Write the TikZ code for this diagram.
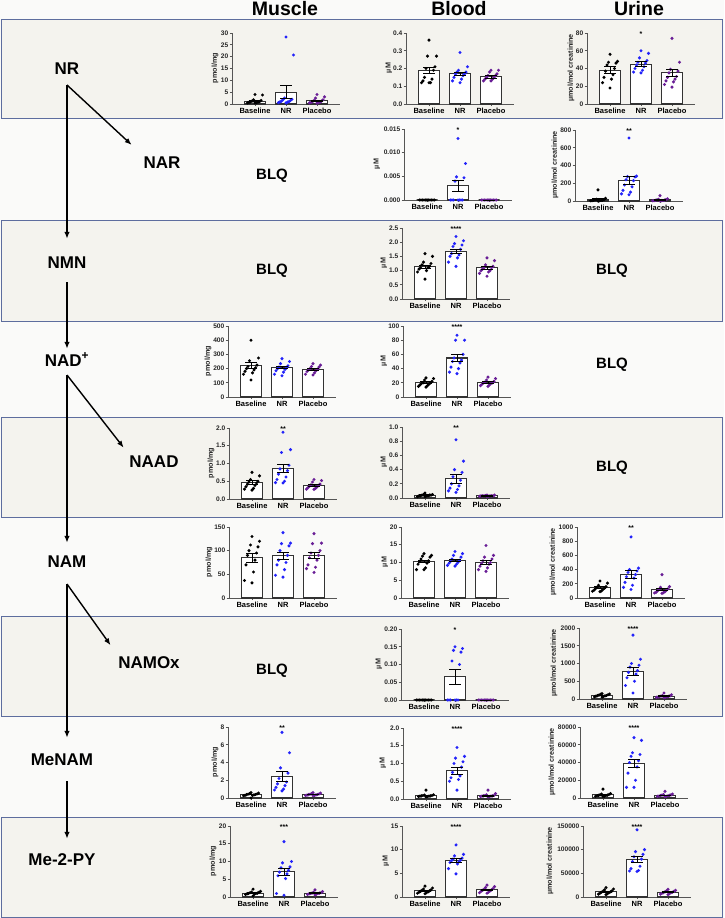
\documentclass[tikz,border=0pt]{standalone}
\usepackage{fontspec}
\setmainfont{Liberation Sans}
\usetikzlibrary{arrows.meta}

\definecolor{boxfill}{RGB}{244,243,238}
\definecolor{pagefill}{RGB}{250,250,249}
\definecolor{boxedge}{RGB}{93,109,158}
\definecolor{nrblue}{RGB}{35,35,250}
\definecolor{pbpurple}{RGB}{105,30,150}
\definecolor{axisgray}{RGB}{85,85,85}

\tikzset{
  rowbox/.style={draw=boxedge, fill=boxfill, line width=1pt},
  pathlbl/.style={font=\fontsize{17}{17}\selectfont\bfseries, text height=12pt, text depth=0pt, inner sep=0pt},
  headlbl/.style={font=\fontsize{19.5}{20}\selectfont\bfseries, text height=14pt, text depth=0pt, inner sep=0pt},
  blqlbl/.style={font=\fontsize{15}{15}\selectfont\bfseries, inner sep=0pt},
  ticklbl/.style={font=\fontsize{6.6}{7}\selectfont\bfseries, inner sep=0.5pt, text=black!85},
  ytitle/.style={font=\fontsize{7.2}{8}\selectfont\bfseries, inner sep=0pt, text=black!85},
  xlbl/.style={font=\fontsize{7.5}{8}\selectfont\bfseries, inner sep=0pt},
  starlbl/.style={font=\fontsize{7}{7}\selectfont\bfseries, inner sep=0pt},
  axisline/.style={draw=axisgray, line width=0.9pt},
  barline/.style={draw=black!80, line width=1.1pt, fill=white},
  errline/.style={draw=black, line width=0.8pt},
  flow/.style={-{Latex[length=7pt,width=5.5pt]}, line width=1.4pt, shorten >=14pt},
}

% axes of one small chart: #1 top value, #2 ticks value/label, #3 y title, #4 title offset
\newcommand{\chartaxes}[4]{%
  \def\ymx{#1}%
  \draw[axisline] (0,-71) -- (0,0) -- (108,0);
  \foreach \v/\t in {#2}{%
    \pgfmathsetmacro{\yy}{-71*(\v/\ymx)}
    \draw[axisline] (-2.5,\yy) -- (0,\yy);
    \node[ticklbl, anchor=east] at (-3,\yy) {\t};
  }
  \foreach \c/\g in {23/Baseline,54/NR,85/Placebo}{%
    \draw[axisline] (\c,0) -- (\c,2);
    \node[xlbl, anchor=north] at (\c,4) {\g};
  }
  \node[ytitle, rotate=90] at (#4,-36) {#3};
}

% one group: #1 x centre, #2 mean, #3 sem, #4 colour, #5 points
\newcommand{\chartgroup}[5]{%
  \pgfmathsetmacro{\hb}{-71*(#2/\ymx)}
  \pgfmathsetmacro{\hi}{-71*((#2+#3)/\ymx)}
  \pgfmathsetmacro{\lo}{-71*((#2-#3)/\ymx)}
  \draw[barline] (#1-10.5,0) rectangle (#1+10.5,\hb);
  \foreach \p [count=\i] in {#5}{%
    \pgfmathsetmacro{\dx}{(mod(\i*5,11)-5)*1.5}
    \pgfmathsetmacro{\py}{-71*(\p/\ymx)}
    \fill[#4] ({#1+\dx},\py) circle (1.7pt);
  }
  \draw[errline] (#1,\lo) -- (#1,\hi) (#1-6,\lo) -- (#1+6,\lo) (#1-6,\hi) -- (#1+6,\hi);
}

\newcommand{\chartstars}[1]{\node[starlbl] at (54,-70) {#1};}

\begin{document}
\begin{tikzpicture}[x=1pt,y=-1pt]

  \useasboundingbox (0,0) rectangle (724,918);
  \fill[pagefill] (0,0) rectangle (724,918);

  % shaded rows
  \foreach \top/\bot in {19/118,220/321,417/517,616/716,817/917}
    \draw[rowbox] (1.5,\top) rectangle (722.5,\bot);

  % column heads
  \begin{scope}[every node/.style={headlbl}]
    \node (muscle) at (285,9) {Muscle};
    \node (blood)  at (459,9) {Blood};
    \node (urine)  at (639,9) {Urine};
  \end{scope}

  % pathway
  \begin{scope}[every node/.style={pathlbl}]
    \node (nr)    at (67,68)   {NR};
    \node (nar)   at (162,162) {NAR};
    \node (nmn)   at (67,262)  {NMN};
    \node (nad)   at (67,360)  {NAD\textsuperscript{+}};
    \node (naad)  at (154,461) {NAAD};
    \node (nam)   at (67,561)  {NAM};
    \node (namox) at (149,662) {NAMOx};
    \node (menam) at (62,759)  {MeNAM};
    \node (mepy)  at (62,859)  {Me-2-PY};
  \end{scope}

  \coordinate (nrfork)    at (67,85);
  \coordinate (nmnfork)   at (67,282);
  \coordinate (nadfork)   at (67,375);
  \coordinate (namfork)   at (67,584);
  \coordinate (menamfork) at (67,781);

  \draw[flow, shorten >=17pt] (nrfork) -- (nrfork |- nmn.north);
  \draw[flow, shorten >=16pt] (nrfork) -- (nar.north west);
  \draw[flow, shorten >=5pt]  (nmnfork) -- (nmnfork |- nad.north);
  \draw[flow, shorten >=12pt] (nadfork) -- (nadfork |- nam.north);
  \draw[flow, shorten >=9pt]  (nadfork) -- (naad.north west);
  \draw[flow, shorten >=15pt] (namfork) -- (namfork |- menam.north);
  \draw[flow, shorten >=13pt] (namfork) -- (namox.north west);
  \draw[flow, shorten >=14pt] (menamfork) -- (menamfork |- mepy.north);

  % below limit of quantification
  \begin{scope}[every node/.style={blqlbl}]
    \node (blqnarm)  at (272,176) {BLQ};
    \node (blqnmnm)  at (272,271) {BLQ};
    \node (blqnmnu)  at (612,271) {BLQ};
    \node (blqnadu)  at (612,365) {BLQ};
    \node (blqnaadu) at (612,468) {BLQ};
    \node (blqnamoxm) at (272,671) {BLQ};
  \end{scope}

  % NR
  \begin{scope}[shift={(232,104)}]
    \chartaxes{30}{0/0,5/5,10/10,15/15,20/20,25/25,30/30}{pmol/mg}{-17}
    \chartgroup{23}{1.2}{0.3}{black}{4.0,3.8,1.8,1.5,1.2,1.0,0.9,0.8,0.7,0.6,0.5,0.5}
    \chartgroup{54}{5.0}{2.7}{nrblue}{28.3,20.7,2.5,2,1.8,1.5,1.2,1.0,0.9,0.8,0.6,0.5}
    \chartgroup{85}{1.3}{0.35}{pbpurple}{4.0,3.0,2.5,1.8,1.5,1.2,1.0,0.8,0.7,0.6,0.5,0.4}
  \end{scope}
  \begin{scope}[shift={(406,104)}]
    \chartaxes{0.4}{0/0.0,0.1/0.1,0.2/0.2,0.3/0.3,0.4/0.4}{µM}{-17}
    \chartgroup{23}{0.19}{0.018}{black}{0.36,0.27,0.27,0.21,0.20,0.19,0.15,0.14,0.13,0.12,0.12,0.12}
    \chartgroup{54}{0.17}{0.01}{nrblue}{0.29,0.21,0.19,0.18,0.18,0.17,0.17,0.16,0.15,0.14,0.13,0.12}
    \chartgroup{85}{0.155}{0.008}{pbpurple}{0.19,0.19,0.18,0.17,0.16,0.16,0.15,0.15,0.14,0.14,0.13,0.13}
  \end{scope}
  \begin{scope}[shift={(587,104)}]
    \chartaxes{80}{0/0,20/20,40/40,60/60,80/80}{µmol/mol creatinine}{-16}
    \chartgroup{23}{38}{4}{black}{56,48,47,46,44,40,37,33,30,28,24,18}
    \chartgroup{54}{45}{2.5}{nrblue}{60,57,52,49,47,46,44,42,40,38,36,35}
    \chartgroup{85}{35}{4}{pbpurple}{74,47,39,37,35,31,30,28,26,25,22,19}
    \chartstars{*}
  \end{scope}

  % NAR
  \begin{scope}[shift={(404,200)}]
    \chartaxes{0.015}{0/0.000,0.005/0.005,0.010/0.010,0.015/0.015}{µM}{-27}
    \chartgroup{23}{0}{0}{black}{0,0,0,0,0,0,0,0,0,0,0,0}
    \chartgroup{54}{0.003}{0.0012}{nrblue}{0.013,0.0077,0.0049,0.0047,0.004,0,0,0,0,0,0,0}
    \chartgroup{85}{0}{0}{pbpurple}{0,0,0,0,0,0,0,0,0,0,0,0}
    \chartstars{*}
  \end{scope}
  \begin{scope}[shift={(575,201)}]
    \chartaxes{800}{0/0,200/200,400/400,600/600,800/800}{µmol/mol creatinine}{-20}
    \chartgroup{23}{15}{10}{black}{125,30,20,15,12,10,8,6,5,4,3,2}
    \chartgroup{54}{230}{45}{nrblue}{710,280,275,270,240,230,180,160,120,100,80,70}
    \chartgroup{85}{12}{5}{pbpurple}{60,25,20,15,12,10,8,6,5,4,3,2}
    \chartstars{**}
  \end{scope}

  % NMN
  \begin{scope}[shift={(402,299)}]
    \chartaxes{2.5}{0/0.0,0.5/0.5,1.0/1.0,1.5/1.5,2.0/2.0,2.5/2.5}{µM}{-18}
    \chartgroup{23}{1.13}{0.07}{black}{1.6,1.5,1.3,1.25,1.2,1.15,1.1,1.1,1.05,1.0,0.95,0.7}
    \chartgroup{54}{1.67}{0.08}{nrblue}{2.2,2.05,1.95,1.9,1.85,1.75,1.6,1.55,1.5,1.45,1.3,1.15}
    \chartgroup{85}{1.1}{0.05}{pbpurple}{1.45,1.35,1.2,1.15,1.1,1.1,1.05,1.0,1.0,0.95,0.9,0.8}
    \chartstars{****}
  \end{scope}

  % NAD+
  \begin{scope}[shift={(228,397)}]
    \chartaxes{500}{0/0,100/100,200/200,300/300,400/400,500/500}{pmol/mg}{-20}
    \chartgroup{23}{220}{22}{black}{400,275,255,225,215,205,200,190,180,170,160,120}
    \chartgroup{54}{208}{10}{nrblue}{270,250,235,220,210,205,200,195,185,175,160,150}
    \chartgroup{85}{195}{8}{pbpurple}{235,225,215,210,200,195,190,185,180,170,160,155}
  \end{scope}
  \begin{scope}[shift={(403,397)}]
    \chartaxes{100}{0/0,20/20,40/40,60/60,80/80,100/100}{µM}{-19}
    \chartgroup{23}{20}{1.5}{black}{27,26,24,22,20,20,19,18,17,16,15,14}
    \chartgroup{54}{55}{5}{nrblue}{87,80,80,60,55,52,50,48,42,40,35,33}
    \chartgroup{85}{21}{1.2}{pbpurple}{28,26,24,22,21,20,20,19,18,17,16,15}
    \chartstars{****}
  \end{scope}

  % NAAD
  \begin{scope}[shift={(229,499)}]
    \chartaxes{2.0}{0/0.0,0.5/0.5,1.0/1.0,1.5/1.5,2.0/2.0}{pmol/mg}{-18}
    \chartgroup{23}{0.47}{0.05}{black}{0.75,0.65,0.55,0.5,0.48,0.45,0.42,0.38,0.35,0.3,0.28,0.25}
    \chartgroup{54}{0.86}{0.12}{nrblue}{1.88,1.39,1.31,0.95,0.85,0.8,0.7,0.62,0.55,0.5,0.46,0.45}
    \chartgroup{85}{0.38}{0.03}{pbpurple}{0.55,0.52,0.48,0.42,0.4,0.38,0.36,0.34,0.32,0.3,0.28,0.27}
    \chartstars{**}
  \end{scope}
  \begin{scope}[shift={(402,498)}]
    \chartaxes{1.0}{0/0.0,0.2/0.2,0.4/0.4,0.6/0.6,0.8/0.8,1.0/1.0}{µM}{-18}
    \chartgroup{23}{0.04}{0.005}{black}{0.07,0.05,0.05,0.04,0.04,0.04,0.03,0.03,0.03,0.03,0.02,0.02}
    \chartgroup{54}{0.27}{0.06}{nrblue}{0.82,0.52,0.4,0.36,0.3,0.25,0.2,0.17,0.14,0.12,0.1,0.08}
    \chartgroup{85}{0.03}{0.002}{pbpurple}{0.04,0.04,0.035,0.03,0.03,0.03,0.03,0.03,0.03,0.025,0.025,0.02}
    \chartstars{**}
  \end{scope}

  % NAM
  \begin{scope}[shift={(229,598)}]
    \chartaxes{150}{0/0,50/50,100/100,150/150}{pmol/mg}{-20}
    \chartgroup{23}{85}{9}{black}{130,120,112,108,100,95,90,80,70,55,37,32}
    \chartgroup{54}{89}{8}{nrblue}{138,116,115,110,100,90,80,75,70,60,48,44}
    \chartgroup{85}{90}{7}{pbpurple}{136,116,115,100,95,90,85,80,70,65,62,54}
  \end{scope}
  \begin{scope}[shift={(401,598)}]
    \chartaxes{20}{0/0,5/5,10/10,15/15,20/20}{µM}{-16}
    \chartgroup{23}{10.3}{0.4}{black}{12.5,12,11.8,11.5,11,10.5,10.2,9.8,9.5,8.5,8,8}
    \chartgroup{54}{10.6}{0.3}{nrblue}{13.1,12.5,12,11.5,11,10.6,10.3,10,9.8,9.5,9.2,9}
    \chartgroup{85}{10.1}{0.5}{pbpurple}{14.8,12,11.5,11,10.5,10,9.8,9.5,9,8.5,8,7.5}
  \end{scope}
  \begin{scope}[shift={(577,598)}]
    \chartaxes{1000}{0/0,200/200,400/400,600/600,800/800,1000/1000}{µmol/mol creatinine}{-24}
    \chartgroup{23}{145}{12}{black}{240,210,180,160,150,140,130,120,110,100,95,90}
    \chartgroup{54}{330}{55}{nrblue}{860,420,400,380,360,330,300,280,220,180,150,120}
    \chartgroup{85}{120}{18}{pbpurple}{330,160,150,130,120,110,100,90,80,75,70,65}
    \chartstars{**}
  \end{scope}

  % NAMOx
  \begin{scope}[shift={(401,700)}]
    \chartaxes{0.20}{0/0.00,0.05/0.05,0.10/0.10,0.15/0.15,0.20/0.20}{µM}{-22}
    \chartgroup{23}{0}{0}{black}{0,0,0,0,0,0,0,0,0,0,0,0}
    \chartgroup{54}{0.065}{0.02}{nrblue}{0.15,0.145,0.14,0.135,0.11,0.1,0,0,0,0,0,0}
    \chartgroup{85}{0}{0}{pbpurple}{0,0,0,0,0,0,0,0,0,0,0,0}
    \chartstars{*}
  \end{scope}
  \begin{scope}[shift={(579,699)}]
    \chartaxes{2000}{0/0,500/500,1000/1000,1500/1500,2000/2000}{µmol/mol creatinine}{-25}
    \chartgroup{23}{100}{10}{black}{150,140,130,120,110,100,95,90,80,70,60,55}
    \chartgroup{54}{770}{110}{nrblue}{1800,1120,1000,950,900,800,750,700,600,500,380,170}
    \chartgroup{85}{80}{10}{pbpurple}{170,120,100,90,80,75,70,60,55,50,45,40}
    \chartstars{****}
  \end{scope}

  % MeNAM
  \begin{scope}[shift={(228,798)}]
    \chartaxes{8}{0/0,2/2,4/4,6/6,8/8}{pmol/mg}{-13}
    \chartgroup{23}{0.4}{0.04}{black}{0.6,0.55,0.5,0.45,0.42,0.4,0.38,0.35,0.3,0.28,0.25,0.0}
    \chartgroup{54}{2.4}{0.55}{nrblue}{7.4,5.1,3.4,2.8,2.2,1.8,1.6,1.4,1.2,1.0,0.9,0.8}
    \chartgroup{85}{0.4}{0.03}{pbpurple}{0.6,0.55,0.5,0.45,0.42,0.4,0.38,0.35,0.32,0.3,0.28,0.25}
    \chartstars{**}
  \end{scope}
  \begin{scope}[shift={(403,799)}]
    \chartaxes{2.0}{0/0.0,0.5/0.5,1.0/1.0,1.5/1.5,2.0/2.0}{µM}{-20}
    \chartgroup{23}{0.1}{0.01}{black}{0.25,0.12,0.11,0.1,0.1,0.09,0.09,0.08,0.08,0.07,0.07,0.06}
    \chartgroup{54}{0.8}{0.1}{nrblue}{1.45,1.2,1.15,1.05,1.0,0.9,0.75,0.65,0.6,0.55,0.5,0.25}
    \chartgroup{85}{0.1}{0.015}{pbpurple}{0.25,0.15,0.12,0.1,0.1,0.09,0.09,0.08,0.08,0.07,0.07,0.06}
    \chartstars{****}
  \end{scope}
  \begin{scope}[shift={(580,798)}]
    \chartaxes{80}{0/0,20/20000,40/40000,60/60000,80/80000}{µmol/mol creatinine}{-28}
    \chartgroup{23}{3.5}{0.6}{black}{10,5,4.5,4,3.5,3.2,3,2.8,2.5,2.2,2,1.8}
    \chartgroup{54}{39}{5}{nrblue}{68,65,51,49,47,42,40,35,28,20,12,12}
    \chartgroup{85}{3}{0.5}{pbpurple}{7.5,4.5,4,3.5,3.2,3,2.8,2.5,2.2,2,1.8,1.5}
    \chartstars{****}
  \end{scope}

  % Me-2-PY
  \begin{scope}[shift={(230,897)}]
    \chartaxes{20}{0/0,5/5,10/10,15/15,20/20}{pmol/mg}{-17}
    \chartgroup{23}{1.1}{0.1}{black}{2.2,1.6,1.4,1.3,1.2,1.1,1.0,1.0,0.9,0.8,0.7,0.3}
    \chartgroup{54}{7.1}{1.1}{nrblue}{15.6,10,9.6,8.5,8.2,7.5,7,6.5,6,5.2,1,0.5}
    \chartgroup{85}{1.1}{0.1}{pbpurple}{2,1.5,1.3,1.2,1.1,1.1,1,1,0.9,0.8,0.7,0.6}
    \chartstars{***}
  \end{scope}
  \begin{scope}[shift={(402,897)}]
    \chartaxes{15}{0/0,5/5,10/10,15/15}{µM}{-16}
    \chartgroup{23}{1.3}{0.15}{black}{2.3,1.9,1.7,1.5,1.4,1.3,1.2,1.1,1.0,0.9,0.8,0.7}
    \chartgroup{54}{7.7}{0.45}{nrblue}{11,9,8.7,8.2,8,7.8,7.7,7.5,7.3,7,6,4.9}
    \chartgroup{85}{1.5}{0.15}{pbpurple}{2.5,2.2,2,1.8,1.6,1.5,1.4,1.3,1.2,1.0,0.9,0.8}
    \chartstars{****}
  \end{scope}
  \begin{scope}[shift={(583,897)}]
    \chartaxes{150}{0/0,50/50000,100/100000,150/150000}{µmol/mol creatinine}{-33}
    \chartgroup{23}{11}{1.5}{black}{20,17,15,13,12,11,10,9,8,7,6,5}
    \chartgroup{54}{80}{6}{nrblue}{142,100,96,90,85,80,75,65,60,56,55,54}
    \chartgroup{85}{10}{1}{pbpurple}{16,14,13,12,11,10,9,9,8,7,6,5}
    \chartstars{****}
  \end{scope}

\end{tikzpicture}
\end{document}
